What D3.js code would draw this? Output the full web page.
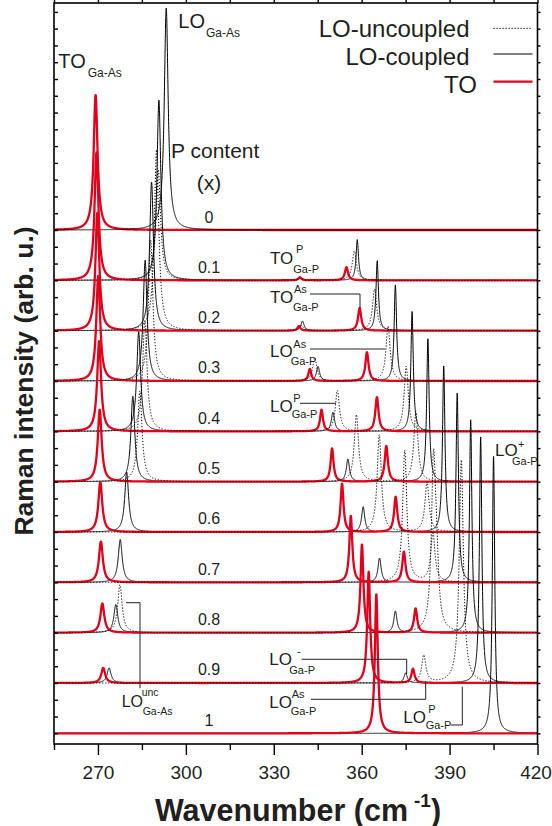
<!DOCTYPE html>
<html>
<head>
<meta charset="utf-8">
<script src="https://cdn.jsdelivr.net/npm/d3@7"></script>
<style>
  html, body { margin: 0; padding: 0; background: #fff; }
  svg { display: block; font-family: "Liberation Sans", Arial, Helvetica, sans-serif; }
</style>
</head>
<body>
<svg id="chart" width="552" height="826"></svg>
<script>
// P content of each spectrum (top to bottom)
const pContent = ["0", "0.1", "0.2", "0.3", "0.4", "0.5", "0.6", "0.7", "0.8", "0.9", "1"];

// TO modes: peak wavenumber (cm-1) and intensity (arb. u.)
const toGaAsPos   = [269.2, 269.5, 269.8, 270.1, 270.4, 270.6, 270.8, 271.0, 271.5, 271.8, null];
const toGaAsAmp   = [2.68, 2.54, 2.34, 2.09, 1.79, 1.43, 0.99, 0.81, 0.58, 0.30, null];
const toGaPPPos   = [null, 338.9, 338.6, 342.3, 346.3, 349.9, 353.3, 356.3, 360.1, 362.4, 365.0];
const toGaPPAmp   = [null, 0.06, 0.09, 0.24, 0.43, 0.66, 0.96, 1.32, 1.75, 2.21, 2.76];
const toGaPAsPos  = [null, 354.8, 359.3, 361.8, 365.2, 368.4, 371.6, 374.4, 378.4, 377.5, null];
const toGaPAsAmp  = [null, 0.26, 0.45, 0.57, 0.68, 0.71, 0.70, 0.61, 0.48, 0.28, null];

// Coupled LO modes
const loGaAsPos   = [293.3, 290.8, 288.3, 286.1, 283.9, 281.9, 279.8, 277.6, 276.1, 273.8, null];
const loGaAsAmp   = [4.41, 3.58, 2.95, 2.40, 1.98, 1.70, 1.19, 0.85, 0.56, 0.30, null];
const loMinusPos  = [null, 339.2, 339.8, 345.1, 350.2, 355.3, 360.5, 366.1, 371.5, 375.0, null];
const loMinusAmp  = [null, 0.06, 0.19, 0.29, 0.38, 0.45, 0.50, 0.48, 0.43, 0.20, null];
const loPlusPos   = [null, 358.5, 365.3, 371.5, 377.2, 382.6, 388.0, 392.6, 397.2, 400.6, 405.0];
const loPlusAmp   = [null, 0.81, 1.39, 1.91, 2.38, 2.84, 3.30, 3.76, 4.23, 4.89, 5.50];

// Uncoupled LO modes
const loUncGaAsPos = [null, 290.6, 290.0, 288.0, 286.0, 284.3, null, null, 277.5, null, null];
const loUncGaAsAmp = [null, 2.20, 3.60, 2.80, 2.20, 1.80, null, null, 0.95, null, null];
const loAsPos      = [null, 357.5, 364.4, 369.0, 375.2, 378.5, 382.3, 384.3, 385.5, 381.2, null];
const loAsAmp      = [null, 0.58, 0.83, 1.09, 1.29, 1.39, 0.99, 0.99, 1.09, 0.54, null];
const loPPos       = [null, 339.0, 339.5, 344.0, 351.7, 358.2, 366.0, 374.7, 384.5, 394.0, null];
const loPAmp       = [null, 0.04, 0.10, 0.46, 0.81, 1.33, 1.93, 2.62, 3.18, 4.43, null];

// Axis ticks
const majorTicks = [270, 300, 330, 360, 390, 420];
const minorTicks = [255, 285, 315, 345, 375, 405];

// ---------------------------------------------------------------
const W = 552, H = 826;
const plot = { left: 54, right: 537.5, top: 3, bottom: 744 };
const RED = "#e2001a", INK = "#231f20";

const x = d3.scaleLinear().domain([255, 420]).range([plot.left, plot.right]);
const y = d3.scaleLinear().domain([-0.212, 14.51]).range([plot.bottom, plot.top]);

const svg = d3.select("#chart");
svg.append("rect").attr("width", W).attr("height", H).attr("fill", "#fff");
svg.append("defs").append("clipPath").attr("id", "plotclip").append("rect")
  .attr("x", plot.left).attr("y", plot.top)
  .attr("width", plot.right - plot.left).attr("height", plot.bottom - plot.top);

// Lorentzian half widths (cm-1) per mode
const families = {
  to: [
    { pos: toGaAsPos, amp: toGaAsAmp, g: 0.8 },
    { pos: toGaPPPos, amp: toGaPPAmp, g: 0.6 },
    { pos: toGaPAsPos, amp: toGaPAsAmp, g: 0.65 }
  ],
  coupled: [
    { pos: loGaAsPos, amp: loGaAsAmp, g: 0.8 },
    { pos: loMinusPos, amp: loMinusAmp, g: 0.65 },
    { pos: loPlusPos, amp: loPlusAmp, g: 0.5 }
  ],
  uncoupled: [
    { pos: loUncGaAsPos, amp: loUncGaAsAmp, g: 0.9 },
    { pos: loAsPos, amp: loAsAmp, g: 0.85 },
    { pos: loPPos, amp: loPAmp, g: 0.85 }
  ]
};

const grid = d3.range(255, 420.0001, 0.03);
const nPanels = pContent.length;

function spectrum(list, i) {
  const base = nPanels - 1 - i;
  const peaks = list.filter(m => m.pos[i] != null)
    .map(m => ({ c: m.pos[i], a: m.amp[i], g: m.g }));
  return grid.map(w => [w, base + d3.sum(peaks, p => p.a / (1 + ((w - p.c) / p.g) ** 2))]);
}

const line = d3.line().x(d => x(d[0])).y(d => y(d[1]));
const curves = svg.append("g").attr("clip-path", "url(#plotclip)");

const styles = {
  to: { stroke: RED, width: 2.3, dash: null },
  coupled: { stroke: "#000", width: 1, dash: null },
  uncoupled: { stroke: "#000", width: 1, dash: "1.3,1.7" }
};

function drawCurve(kind, i) {
  const s = styles[kind];
  curves.append("path")
    .attr("d", line(spectrum(families[kind], i)))
    .attr("fill", "none")
    .attr("stroke", s.stroke)
    .attr("stroke-width", s.width)
    .attr("stroke-linejoin", "round")
    .attr("stroke-dasharray", s.dash);
}

pContent.forEach((p, i) => {
  if (i === 0) {
    drawCurve("to", i);
    drawCurve("coupled", i);
  } else if (i === nPanels - 1) {
    drawCurve("coupled", i);
    drawCurve("to", i);
  } else {
    drawCurve("coupled", i);
    drawCurve("to", i);
    drawCurve("uncoupled", i);
  }
});

// ---- axes ----
function styleAxis(g, fontSize) {
  g.select(".domain").remove();
  g.selectAll(".tick line").attr("stroke", "#000").attr("stroke-width", 1.4);
  g.selectAll(".tick text").attr("fill", INK)
    .attr("font-size", fontSize)
    .attr("font-family", "'Liberation Sans', Arial, sans-serif");
}

svg.append("g").attr("transform", `translate(0,${plot.bottom})`)
  .call(d3.axisBottom(x).tickValues(majorTicks).tickSize(11).tickPadding(11).tickFormat(d3.format("d")))
  .call(g => styleAxis(g, "19px"))
  .call(g => g.selectAll(".tick text").filter(d => d === 420).attr("dx", "-2"));
svg.append("g").attr("transform", `translate(0,${plot.bottom})`)
  .call(d3.axisBottom(x).tickValues(minorTicks).tickSize(6).tickFormat(""))
  .call(g => styleAxis(g, "0px"));
svg.append("g").attr("transform", `translate(0,${plot.top})`)
  .call(d3.axisTop(x).tickValues(majorTicks.concat(minorTicks)).tickSize(3).tickFormat(""))
  .call(g => styleAxis(g, "0px"));

const yTicks = d3.range(0, 44).map(k => k / 3);
svg.append("g").attr("transform", `translate(${plot.left},0)`)
  .call(d3.axisRight(y).tickValues(yTicks).tickSize(4).tickFormat(""))
  .call(g => styleAxis(g, "0px"));
svg.append("g").attr("transform", `translate(${plot.right},0)`)
  .call(d3.axisRight(y).tickValues(yTicks).tickSize(3).tickFormat(""))
  .call(g => styleAxis(g, "0px"));

svg.append("rect")
  .attr("x", plot.left).attr("y", plot.top)
  .attr("width", plot.right - plot.left).attr("height", plot.bottom - plot.top)
  .attr("fill", "none").attr("stroke", "#000").attr("stroke-width", 1.6);

// ---- axis titles ----
const xTitle = svg.append("text")
  .attr("x", 298).attr("y", 821)
  .attr("text-anchor", "middle")
  .attr("font-weight", "bold").attr("font-size", "30.5px").attr("fill", INK);
xTitle.append("tspan").text("Wavenumber (cm");
xTitle.append("tspan").attr("font-size", "19px").attr("dx", "6").attr("dy", "-14").text("-1");
xTitle.append("tspan").attr("dy", "14").text(")");

svg.append("text")
  .attr("transform", "translate(33,381) rotate(-90)")
  .attr("text-anchor", "middle")
  .attr("font-weight", "bold").attr("font-size", "26.5px").attr("fill", INK)
  .text("Raman intensity (arb. u.)");

// ---- composition labels ----
svg.append("text").attr("x", 171).attr("y", 158)
  .attr("font-size", "21px").attr("fill", INK).text("P content");
svg.append("text").attr("x", 209).attr("y", 190).attr("text-anchor", "middle")
  .attr("font-size", "21px").attr("fill", INK).text("(x)");

svg.append("g").selectAll("text").data(pContent).join("text")
  .attr("x", 209)
  .attr("y", (d, i) => y(nPanels - 1 - i) - 7.5)
  .attr("text-anchor", "middle")
  .attr("font-size", "16px").attr("fill", INK)
  .text(d => d);

// ---- legend ----
const legend = [
  { label: "LO-uncoupled", kind: "uncoupled", tx: 469.5, ty: 36.5, ly: 28.3 },
  { label: "LO-coupled", kind: "coupled", tx: 469.5, ty: 64.5, ly: 54 },
  { label: "TO", kind: "to", tx: 477, ty: 93.3, ly: 81.7 }
];
legend.forEach(l => {
  svg.append("text").attr("x", l.tx).attr("y", l.ty).attr("text-anchor", "end")
    .attr("font-size", "24px").attr("fill", INK).text(l.label);
  const s = styles[l.kind];
  svg.append("line").attr("x1", 493.5).attr("x2", 532.5).attr("y1", l.ly).attr("y2", l.ly)
    .attr("stroke", s.stroke).attr("stroke-width", s.width).attr("stroke-dasharray", s.dash);
});

// ---- mode annotations ----
const notes = [
  { main: "TO", mx: 58.3, my: 68.3, ms: 20, sub: "Ga-As", bx: 87.7, by: 76.7, ss: 12 },
  { main: "LO", mx: 178.3, my: 28.3, ms: 20, sub: "Ga-As", bx: 206, by: 36.7, ss: 12 },
  { main: "TO", mx: 270, my: 264, ms: 17, sup: "P", px: 296, py: 253.3, sub: "Ga-P", bx: 293.3, by: 272.7, ss: 11 },
  { main: "TO", mx: 270, my: 302.7, ms: 17, sup: "As", px: 294, py: 292.7, sub: "Ga-P", bx: 293, by: 310.7, ss: 11,
    lead: "M310,294H360V308" },
  { main: "LO", mx: 270, my: 356.7, ms: 17, sup: "As", px: 293.3, py: 347.7, sub: "Ga-P", bx: 290.7, by: 365, ss: 11,
    lead: "M310,349H385" },
  { main: "LO", mx: 270, my: 411.7, ms: 17, sup: "P", px: 293.3, py: 401.7, sub: "Ga-P", bx: 291.7, by: 418.3, ss: 11,
    lead: "M300,403.3H336" },
  { main: "LO", mx: 495, my: 456, ms: 17, sup: "+", px: 518, py: 448, sub: "Ga-P", bx: 512, by: 465, ss: 11 },
  { main: "LO", mx: 269.3, my: 665, ms: 17, sup: "-", px: 297, py: 655, sub: "Ga-P", bx: 289.3, by: 674, ss: 11,
    lead: "M301.7,659.3H406.7V674" },
  { main: "LO", mx: 269.3, my: 708.3, ms: 17, sup: "As", px: 291.7, py: 698.3, sub: "Ga-P", bx: 290.7, by: 715, ss: 11,
    lead: "M311,699.3H425.7V681" },
  { main: "LO", mx: 403.3, my: 722.7, ms: 17, sup: "P", px: 428.3, py: 713.3, sub: "Ga-P", bx: 425.7, by: 729, ss: 11,
    lead: "M450.7,725H462.3V686.7" },
  { main: "LO", mx: 121.7, my: 706.7, ms: 16, sup: "unc", px: 141.7, py: 696, sub: "Ga-As", bx: 142.7, by: 715, ss: 10.5,
    lead: "M126,602.7H140V688.3" }
];

const notesG = svg.append("g").attr("fill", INK);
notes.forEach(n => {
  if (n.lead) {
    notesG.append("path").attr("d", n.lead).attr("fill", "none")
      .attr("stroke", "#222").attr("stroke-width", 1);
  }
  notesG.append("text").attr("x", n.mx).attr("y", n.my).attr("font-size", n.ms + "px").text(n.main);
  if (n.sup) notesG.append("text").attr("x", n.px).attr("y", n.py).attr("font-size", n.ss + "px").text(n.sup);
  if (n.sub) notesG.append("text").attr("x", n.bx).attr("y", n.by).attr("font-size", n.ss + "px").text(n.sub);
});
</script>
</body>
</html>
